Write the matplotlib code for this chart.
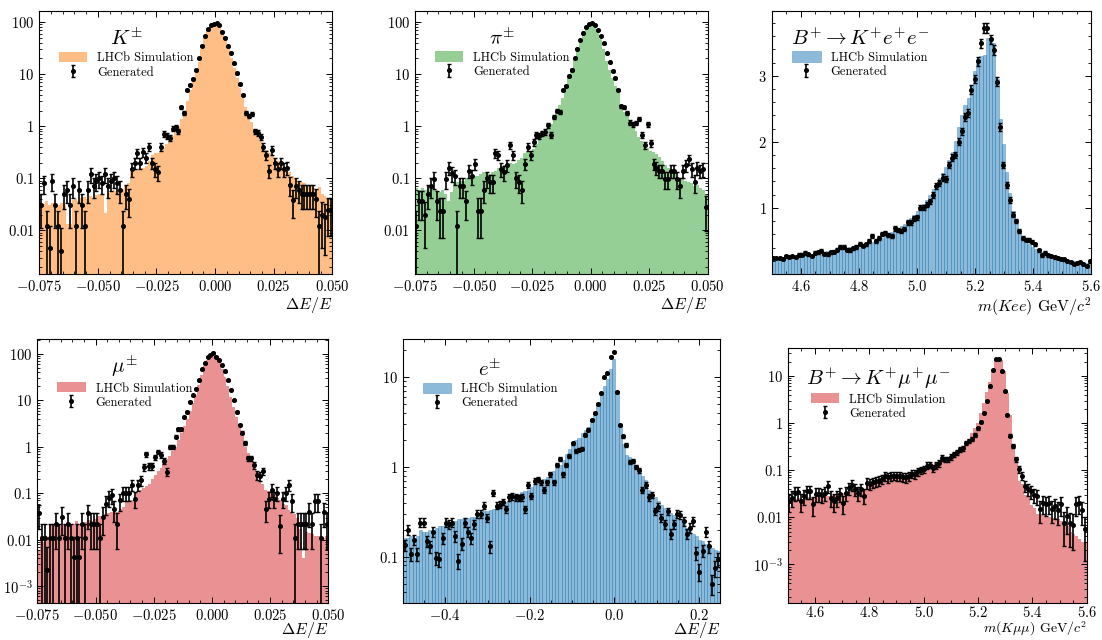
import numpy as np
import matplotlib
matplotlib.use("Agg")
import matplotlib.pyplot as plt
from matplotlib.ticker import AutoMinorLocator, LogLocator, NullFormatter

# ---- data (normalised histograms, 100 bins per panel) ----
DE_RANGE = (-0.075, 0.05)
E_RANGE = (-0.5, 0.25)
M_RANGE = (4.5, 5.6)
N_BINS = 100

K_SIM = [0.035, 0.032, 0.036, 0.030, 0.033, 0.028, 0.030, 0.034, 0.030, 0.013,
         0.013, 0.038, 0.040, 0.037, 0.041, 0.043, 0.040, 0.046, 0.042, 0.047,
         0.049, 0.048, 0.022, 0.052, 0.056, 0.060, 0.058, 0.064, 0.062, 0.070,
         0.080, 0.14, 0.15, 0.15, 0.16, 0.16, 0.17, 0.21, 0.28, 0.30,
         0.30, 0.33, 0.38, 0.45, 0.55, 0.65, 0.80, 1.0, 1.4, 2.0,
         3.0, 5.0, 7.5, 11, 17, 30, 50, 70, 80, 85,
         88, 84, 68, 52, 33, 20, 13, 8.5, 5.5, 3.5,
         2.3, 1.7, 1.2, 0.90, 0.70, 0.52, 0.42, 0.35, 0.30, 0.27,
         0.24, 0.21, 0.19, 0.17, 0.15, 0.13, 0.11, 0.10, 0.090, 0.085,
         0.080, 0.075, 0.070, 0.065, 0.060, 0.068, 0.050, 0.045, 0.040, 0.040]
K_GEN = [0.030, 0.080, 0.012, 0.0046, 0.090, 0.030, 0.012, 0.004, 0.050, 0.060,
         0.030, 0.070, 0.012, 0.060, 0.030, 0.012, 0.060, 0.12, 0.070, 0.090,
         0.10, 0.080, 0.12, 0.070, 0.090, 0.10, 0.080, 0.060, 0.012, 0.050,
         0.040, 0.15, 0.20, 0.30, 0.20, 0.32, 0.25, 0.40, 0.20, 0.15,
         0.13, 0.40, 0.70, 0.65, 0.60, 0.90, 0.95, 0.80, 2.3, 1.8,
         5.0, 6.2, 8.1, 12, 20, 35, 54, 72, 88, 92,
         94, 88, 65, 50, 34, 26, 16, 10.6, 6.6, 4.0,
         1.8, 1.6, 1.7, 0.80, 0.75, 0.63, 0.40, 0.28, 0.14, 0.35,
         0.20, 0.15, 0.20, 0.15, 0.16, 0.075, 0.039, 0.070, 0.060, 0.050,
         0.050, 0.050, 0.050, 0.050, 0.040, 0.012, 0.020, 0.018, 0.025, 0.025]

PI_SIM = [0.065, 0.060, 0.065, 0.060, 0.070, 0.060, 0.065, 0.060, 0.055, 0.060,
          0.050, 0.037, 0.055, 0.080, 0.085, 0.090, 0.090, 0.10, 0.095, 0.10,
          0.11, 0.11, 0.12, 0.13, 0.13, 0.12, 0.13, 0.14, 0.16, 0.17,
          0.18, 0.17, 0.20, 0.19, 0.20, 0.22, 0.25, 0.30, 0.32, 0.33,
          0.36, 0.45, 0.55, 0.65, 0.75, 0.90, 1.1, 1.3, 1.8, 2.5,
          3.5, 5.5, 8.5, 13, 20, 32, 48, 68, 80, 86,
          86, 80, 66, 48, 30, 18, 12, 8.5, 6.0, 4.3,
          2.6, 1.9, 1.6, 1.3, 1.0, 0.80, 0.62, 0.52, 0.43, 0.38,
          0.34, 0.32, 0.29, 0.26, 0.21, 0.18, 0.16, 0.14, 0.14, 0.11,
          0.10, 0.10, 0.090, 0.085, 0.080, 0.070, 0.075, 0.065, 0.060, 0.050]
PI_GEN = [0.012, 0.037, 0.037, 0.020, 0.050, 0.070, 0.097, 0.037, 0.024, 0.024,
          0.097, 0.16, 0.125, 0.11, 0.012, 0.070, 0.070, 0.037, 0.14, 0.11,
          0.19, 0.024, 0.024, 0.060, 0.10, 0.085, 0.085, 0.30, 0.28, 0.15,
          0.13, 0.18, 0.43, 0.28, 0.10, 0.085, 0.060, 0.19, 0.40, 0.28,
          0.50, 0.68, 0.65, 0.73, 0.78, 1.05, 0.68, 1.5, 2.0, 1.9,
          5.0, 5.9, 9.2, 12, 20, 31, 45, 61, 81, 92,
          94, 88, 70, 54, 39, 25, 17, 11.6, 8.3, 5.0,
          2.4, 2.3, 1.8, 1.17, 1.1, 1.15, 1.4, 0.68, 0.43, 1.1,
          0.47, 0.19, 0.16, 0.14, 0.14, 0.097, 0.097, 0.14, 0.14, 0.097,
          0.070, 0.14, 0.18, 0.23, 0.15, 0.085, 0.16, 0.14, 0.15, 0.028]

KEE_SIM = [0.25, 0.25, 0.24, 0.25, 0.26, 0.26, 0.27, 0.27, 0.28, 0.29,
           0.29, 0.30, 0.31, 0.32, 0.32, 0.33, 0.34, 0.35, 0.36, 0.37,
           0.38, 0.38, 0.39, 0.40, 0.41, 0.42, 0.43, 0.44, 0.45, 0.46,
           0.47, 0.49, 0.51, 0.53, 0.55, 0.58, 0.60, 0.63, 0.66, 0.69,
           0.72, 0.76, 0.80, 0.85, 0.90, 0.95, 1.00, 1.06, 1.12, 1.20,
           1.28, 1.36, 1.45, 1.53, 1.62, 1.72, 1.85, 2.02, 2.22, 2.40,
           2.55, 2.67, 2.85, 3.07, 3.25, 3.30, 3.32, 3.57, 3.55, 3.50,
           2.95, 2.34, 1.97, 1.54, 1.22, 0.95, 0.76, 0.65, 0.55, 0.52,
           0.45, 0.41, 0.38, 0.35, 0.33, 0.32, 0.30, 0.29, 0.27, 0.25,
           0.24, 0.23, 0.21, 0.20, 0.19, 0.18, 0.17, 0.17, 0.16, 0.16]
KEE_GEN = [0.24, 0.24, 0.24, 0.23, 0.27, 0.26, 0.27, 0.26, 0.29, 0.29,
           0.32, 0.30, 0.27, 0.32, 0.33, 0.35, 0.31, 0.30, 0.33, 0.34,
           0.37, 0.41, 0.41, 0.37, 0.36, 0.39, 0.41, 0.46, 0.43, 0.45,
           0.50, 0.57, 0.50, 0.54, 0.60, 0.62, 0.59, 0.57, 0.69, 0.67,
           0.65, 0.68, 0.78, 0.78, 0.84, 0.86, 1.00, 1.01, 1.05, 1.10,
           1.20, 1.33, 1.37, 1.46, 1.44, 1.65, 1.76, 1.80, 2.00, 2.16,
           2.38, 2.44, 2.79, 2.95, 3.22, 3.49, 3.72, 3.72, 3.55, 3.39,
           2.91, 2.22, 1.65, 1.35, 1.12, 0.90, 0.80, 0.65, 0.55, 0.52,
           0.51, 0.49, 0.45, 0.36, 0.28, 0.32, 0.28, 0.27, 0.25, 0.24,
           0.23, 0.22, 0.20, 0.18, 0.15, 0.17, 0.18, 0.15, 0.12, 0.19]

MU_SIM = [0.006, 0.012, 0.009, 0.011, 0.022, 0.020, 0.024, 0.022, 0.018, 0.022,
          0.024, 0.020, 0.022, 0.025, 0.022, 0.020, 0.024, 0.026, 0.025, 0.028,
          0.030, 0.032, 0.030, 0.035, 0.038, 0.040, 0.042, 0.040, 0.045, 0.050,
          0.065, 0.070, 0.072, 0.075, 0.10, 0.12, 0.13, 0.14, 0.16, 0.20,
          0.25, 0.30, 0.35, 0.45, 0.55, 0.65, 0.80, 1.0, 1.4, 2.0,
          2.8, 4.0, 6.0, 9.0, 13, 22, 35, 55, 75, 85,
          90, 80, 68, 48, 32, 20, 12, 7.3, 4.5, 2.7,
          1.7, 1.0, 0.75, 0.52, 0.40, 0.30, 0.19, 0.16, 0.12, 0.11,
          0.10, 0.090, 0.080, 0.070, 0.060, 0.055, 0.044, 0.040, 0.035, 0.030,
          0.017, 0.004, 0.015, 0.014, 0.013, 0.012, 0.012, 0.012, 0.011, 0.012]
MU_GEN = [0.037, 0.011, 0.011, 0.0022, 0.011, 0.011, 0.022, 0.011, 0.031, 0.011,
          0.022, 0.011, 0.0043, 0.011, 0.0043, 0.022, 0.011, 0.037, 0.022, 0.022,
          0.022, 0.011, 0.031, 0.060, 0.080, 0.090, 0.047, 0.022, 0.070, 0.10,
          0.10, 0.10, 0.15, 0.077, 0.15, 0.19, 0.37, 0.70, 0.38, 0.38,
          0.60, 0.78, 0.67, 0.50, 0.29, 1.0, 1.0, 1.66, 2.4, 2.4,
          4.3, 5.7, 9.4, 12.8, 18, 27, 47, 63, 88, 95,
          107, 88, 74, 58, 42, 27, 17, 10, 5.7, 3.0,
          2.0, 1.2, 0.57, 0.57, 0.40, 0.25, 0.23, 0.30, 0.047, 0.077,
          0.12, 0.077, 0.10, 0.020, 0.077, 0.10, 0.15, 0.067, 0.011, 0.022,
          0.022, 0.022, 0.022, 0.040, 0.022, 0.067, 0.067, 0.011, 0.040, 0.022]

E_SIM = [0.16, 0.16, 0.17, 0.16, 0.17, 0.20, 0.19, 0.19, 0.20, 0.20,
         0.21, 0.22, 0.22, 0.23, 0.24, 0.25, 0.25, 0.26, 0.26, 0.27,
         0.27, 0.28, 0.28, 0.30, 0.31, 0.32, 0.32, 0.33, 0.34, 0.36,
         0.37, 0.39, 0.41, 0.43, 0.46, 0.48, 0.50, 0.52, 0.54, 0.56,
         0.60, 0.63, 0.66, 0.70, 0.74, 0.78, 0.84, 0.90, 0.97, 1.05,
         1.20, 1.40, 1.60, 1.80, 2.00, 2.10, 2.40, 2.60, 2.80, 3.40,
         4.00, 5.00, 6.50, 8.00, 9.50, 12.5, 16.0, 6.9, 2.8, 1.8,
         1.35, 1.30, 1.20, 1.05, 0.93, 0.80, 0.72, 0.56, 0.50, 0.46,
         0.42, 0.38, 0.35, 0.33, 0.31, 0.29, 0.27, 0.26, 0.25, 0.21,
         0.20, 0.18, 0.17, 0.155, 0.15, 0.14, 0.14, 0.125, 0.12, 0.115]
E_GEN = [0.135, 0.20, 0.107, 0.155, 0.107, 0.24, 0.24, 0.15, 0.13, 0.19,
         0.097, 0.094, 0.16, 0.24, 0.23, 0.24, 0.17, 0.090, 0.14, 0.24,
         0.19, 0.16, 0.23, 0.30, 0.30, 0.37, 0.27, 0.13, 0.51, 0.37,
         0.38, 0.41, 0.34, 0.46, 0.47, 0.46, 0.45, 0.46, 0.34, 0.63,
         0.48, 0.70, 0.73, 0.68, 0.55, 0.68, 0.83, 0.68, 1.05, 1.23,
         0.83, 1.05, 1.33, 1.84, 1.50, 1.56, 1.60, 2.30, 2.60, 3.35,
         3.97, 5.0, 6.6, 10.0, 11.1, 17.0, 19.3, 6.9, 2.94, 2.20,
         1.76, 1.14, 1.17, 1.00, 0.92, 0.55, 0.63, 0.46, 0.49, 0.32,
         0.36, 0.27, 0.23, 0.32, 0.18, 0.23, 0.30, 0.29, 0.25, 0.18,
         0.21, 0.25, 0.11, 0.068, 0.117, 0.19, 0.13, 0.050, 0.075, 0.094]

KMM_SIM = [0.016, 0.024, 0.025, 0.026, 0.024, 0.025, 0.027, 0.026, 0.027, 0.028,
           0.029, 0.028, 0.030, 0.029, 0.030, 0.031, 0.032, 0.033, 0.033, 0.034,
           0.035, 0.036, 0.036, 0.037, 0.038, 0.040, 0.050, 0.053, 0.055, 0.057,
           0.058, 0.060, 0.062, 0.064, 0.066, 0.068, 0.070, 0.072, 0.075, 0.078,
           0.082, 0.086, 0.090, 0.095, 0.10, 0.105, 0.11, 0.12, 0.13, 0.14,
           0.15, 0.16, 0.17, 0.18, 0.19, 0.22, 0.25, 0.28, 0.31, 0.35,
           0.45, 0.60, 0.80, 1.0, 1.6, 2.6, 4.5, 7.5, 14, 22,
           24, 22, 12.4, 4.3, 1.5, 0.32, 0.14, 0.060, 0.050, 0.030,
           0.027, 0.018, 0.016, 0.012, 0.011, 0.011, 0.010, 0.010, 0.0097, 0.0095,
           0.0090, 0.0085, 0.0070, 0.0065, 0.0050, 0.0045, 0.0040, 0.0035, 0.0030, 0.0030]
KMM_GEN = [0.022, 0.026, 0.033, 0.034, 0.022, 0.028, 0.036, 0.036, 0.019, 0.032,
           0.032, 0.030, 0.033, 0.046, 0.026, 0.022, 0.026, 0.032, 0.020, 0.033,
           0.042, 0.049, 0.040, 0.033, 0.040, 0.029, 0.054, 0.052, 0.055, 0.058,
           0.060, 0.065, 0.074, 0.070, 0.074, 0.077, 0.074, 0.074, 0.072, 0.070,
           0.074, 0.085, 0.082, 0.094, 0.10, 0.105, 0.125, 0.13, 0.11, 0.125,
           0.14, 0.18, 0.17, 0.17, 0.19, 0.22, 0.24, 0.28, 0.29, 0.37,
           0.41, 0.46, 0.56, 0.78, 1.05, 1.67, 3.0, 6.1, 13.4, 22.5,
           22.5, 12.4, 4.7, 1.5, 0.54, 0.33, 0.17, 0.105, 0.077, 0.047,
           0.040, 0.036, 0.030, 0.028, 0.015, 0.020, 0.019, 0.020, 0.015, 0.017,
           0.014, 0.019, 0.0077, 0.0105, 0.0074, 0.0070, 0.019, 0.020, 0.014, 0.0056]

# per-event weight, used for the Poisson error bars of the generated sample
K_W, PI_W, KEE_W, MU_W, E_W, KMM_W = 0.012, 0.012, 0.0015, 0.011, 0.003, 0.0035

DE_TICKS = [-0.075, -0.05, -0.025, 0.0, 0.025, 0.05]
DE_LABELS = ['$-0.075$', '$-0.050$', '$-0.025$', '$0.000$', '$0.025$', '$0.050$']
E_TICKS = [-0.4, -0.2, 0.0, 0.2]
E_LABELS = ['$-0.4$', '$-0.2$', '$0.0$', '$0.2$']
M_TICKS = [4.6, 4.8, 5.0, 5.2, 5.4, 5.6]
M_LABELS = ['$4.6$', '$4.8$', '$5.0$', '$5.2$', '$5.4$', '$5.6$']
LOG_TICKS = [1e-3, 1e-2, 0.1, 1, 10, 100]
LOG_LABELS = ['$10^{-3}$', '$0.01$', '$0.1$', '$1$', '$10$', '$100$']
LIN_TICKS = [1, 2, 3]
LIN_LABELS = ['$1$', '$2$', '$3$']

plt.rcParams.update({
    'font.family': 'serif',
    'font.serif': ['cmr10'],
    'mathtext.fontset': 'cm',
    'axes.formatter.use_mathtext': True,
    'axes.linewidth': 0.8,
    'xtick.direction': 'in', 'ytick.direction': 'in',
    'xtick.top': True, 'ytick.right': True,
    'xtick.major.size': 4.5, 'ytick.major.size': 4.5,
    'xtick.minor.size': 2.4, 'ytick.minor.size': 2.4,
    'xtick.major.width': 0.7, 'ytick.major.width': 0.7,
    'xtick.minor.width': 0.6, 'ytick.minor.width': 0.6,
    'xtick.labelsize': 10.5, 'ytick.labelsize': 10.5,
})

W, H = 1102, 640
fig = plt.figure(figsize=(W / 100, H / 100), dpi=100)


def panel(box, rng, sim, gen, w, color, title, xlabel, xticks, xlabels,
          ylim, log, leg_xy, seams=False, labelpad=1, tickpad=3.5, xlsize=11.5):
    l, r, t, b = box
    ax = fig.add_axes([l / W, 1 - b / H, (r - l) / W, (b - t) / H])
    edges = np.linspace(rng[0], rng[1], N_BINS + 1)
    centers = 0.5 * (edges[1:] + edges[:-1])
    sim = np.array(sim)
    gen = np.array(gen)
    # the blue panels show a faint darker seam between neighbouring bins
    ax.hist(centers, bins=edges, weights=sim, color=color, alpha=0.5,
            log=log, label='LHCb Simulation',
            edgecolor=color if seams else 'none', linewidth=0.5 if seams else 0)
    ax.errorbar(centers, gen, yerr=np.sqrt(gen * w), fmt='o', color='k',
                ms=2.6, elinewidth=1.2, capsize=1.5, capthick=1.0,
                label='Generated')
    ax.set_xlim(rng)
    ax.set_ylim(ylim)
    ax.set_xticks(xticks, xlabels)
    ax.xaxis.set_minor_locator(AutoMinorLocator())
    ax.tick_params(axis='x', which='major', pad=tickpad)
    if log:
        ax.set_yscale('log')
        ticks = [(v, s) for v, s in zip(LOG_TICKS, LOG_LABELS) if ylim[0] <= v <= ylim[1]]
        ax.set_yticks([v for v, _ in ticks], [s for _, s in ticks])
        ax.yaxis.set_minor_locator(LogLocator(subs=np.arange(2, 10), numticks=20))
        ax.yaxis.set_minor_formatter(NullFormatter())
    else:
        ax.set_yticks(LIN_TICKS, LIN_LABELS)
        ax.yaxis.set_minor_locator(AutoMinorLocator(5))
    ax.set_xlabel(xlabel, loc='right', fontsize=xlsize, labelpad=labelpad)
    ax.legend(loc='upper left', bbox_to_anchor=leg_xy, frameon=False,
              borderpad=0, borderaxespad=0, fontsize=9, title=title,
              title_fontsize=15, handlelength=2.25, handleheight=0.9,
              handletextpad=0.8, labelspacing=0.15)
    return ax


DE_X = r'$\Delta E/E$'
panel((39.3, 332.3, 11, 274), DE_RANGE, K_SIM, K_GEN, K_W, 'tab:orange',
      r'$K^{\pm}$', DE_X, DE_TICKS, DE_LABELS, (0.00145, 163), True, (0.067, 0.936))
panel((415, 707.7, 11, 274), DE_RANGE, PI_SIM, PI_GEN, PI_W, 'tab:green',
      r'$\pi^{\pm}$', DE_X, DE_TICKS, DE_LABELS, (0.00145, 163), True, (0.068, 0.936))
panel((771.7, 1091.3, 11, 274), M_RANGE, KEE_SIM, KEE_GEN, KEE_W, 'tab:blue',
      r'$B^{+}\to K^{+}e^{+}e^{-}$', r'$m(Kee)$ GeV$/c^2$', M_TICKS, M_LABELS,
      (0.0, 3.98), False, (0.059, 0.934), seams=True)
panel((37.3, 328.3, 339.3, 602.7), DE_RANGE, MU_SIM, MU_GEN, MU_W, 'tab:red',
      r'$\mu^{\pm}$', DE_X, DE_TICKS, DE_LABELS, (0.00044, 207), True, (0.069, 0.944),
      labelpad=-1.5)
panel((403, 720, 339.3, 602.7), E_RANGE, E_SIM, E_GEN, E_W, 'tab:blue',
      r'$e^{\pm}$', DE_X, E_TICKS, E_LABELS, (0.0307, 26.5), True, (0.062, 0.927),
      seams=True, labelpad=-1.5)
panel((787.8, 1086.7, 348.3, 603.3), M_RANGE, KMM_SIM, KMM_GEN, KMM_W, 'tab:red',
      r'$B^{+}\to K^{+}\mu^{+}\mu^{-}$', r'$m(K\mu\mu)$ GeV$/c^2$', M_TICKS, M_LABELS,
      (0.00015, 38.5), True, (0.061, 0.930), labelpad=-0.5, tickpad=1.5, xlsize=10)

fig.savefig('out.png', dpi=100)
